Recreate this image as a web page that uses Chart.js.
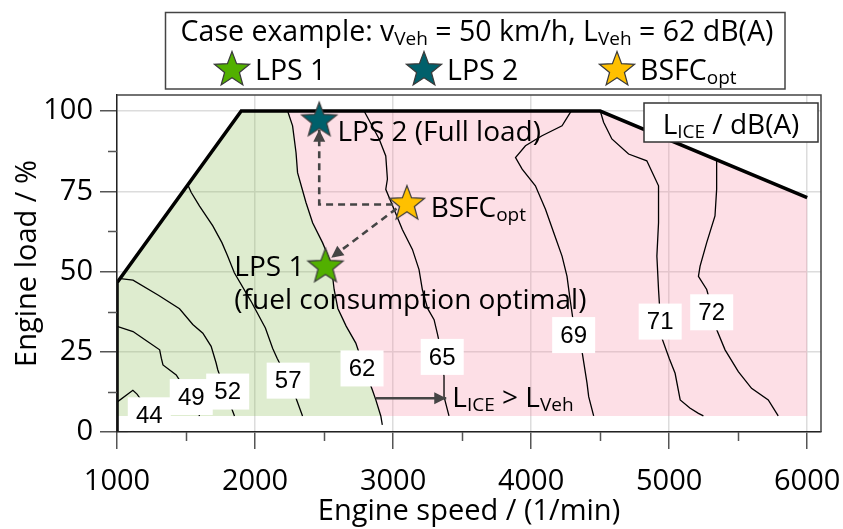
<!DOCTYPE html>
<html>
<head>
<meta charset="utf-8">
<script src="https://cdn.jsdelivr.net/npm/chart.js@4.4.1/dist/chart.umd.min.js"></script>
<style>
  html, body { margin: 0; padding: 0; background: #fff; }
  canvas { display: block; }
</style>
</head>
<body>
<canvas id="map" width="843" height="529"></canvas>
<script>
// axis ticks
const xTickValues = [1000, 1500, 2000, 2500, 3000, 3500, 4000, 4500, 5000, 5500, 6000];
const xTickLabels = ['1000', '', '2000', '', '3000', '', '4000', '', '5000', '', '6000'];
const yTickValues = [0, 12.5, 25, 37.5, 50, 62.5, 75, 87.5, 100];
const yTickLabels = ['0', '', '25', '', '50', '', '75', '', '100'];

// full load curve (rpm, %)
const fullLoadRpm = [1000, 1000, 1900, 4500, 6000];
const fullLoadPct = [0, 46.5, 100, 100, 73];
const fillFloor = 5;

// iso-noise lines L_ICE [rpm, load %]
const iso44 = [[1000, 9.3], [1115, 13], [1145, 11.8], [1200, 8.5], [1240, 5]];
const iso49 = [[1000, 32.9], [1116, 31.3], [1200, 28.8], [1309, 25.6], [1321, 23], [1333, 20.9], [1429, 17.8], [1500, 13], [1560, 9], [1598, 5]];
const iso52 = [[1025, 47.8], [1116, 47.3], [1300, 42.6], [1453, 38.4], [1549, 33.5], [1622, 30.8], [1682, 26.7], [1718, 21.5], [1730, 19.4], [1790, 12], [1851, 5]];
const iso57 = [[1513, 77], [1538, 74.6], [1598, 70.4], [1694, 64.2], [1760, 59], [1800, 55], [1850, 49.6], [1970, 40.8], [2075, 32.4], [2128, 26], [2160, 23], [2230, 17], [2297, 10.5], [2344, 5]];
const iso62 = [[2236, 100], [2272, 95.4], [2297, 87], [2308, 80.8], [2369, 71.5], [2417, 65.2], [2489, 59], [2550, 52.7], [2573, 44.4], [2600, 38.5], [2660, 33], [2730, 27.7], [2790, 20], [2850, 13.1], [2875, 10], [2911, 5], [2922, 2.2]];
const iso65 = [[2790, 100], [2899, 91.3], [2947, 86], [2959, 78.8], [2947, 75.6], [3007, 69.4], [3067, 63.1], [3140, 56.9], [3188, 50.6], [3212, 44.4], [3250, 38.5], [3297, 35], [3320, 30.8], [3350, 25], [3369, 17.3], [3369, 11], [3405, 5]];
const iso69 = [[4290, 100], [4224, 95.4], [4079, 92.3], [3959, 89.2], [3887, 85.5], [3935, 81.9], [4031, 76.7], [4104, 69.4], [4164, 62.1], [4224, 54.8], [4260, 48.5], [4280, 42], [4300, 36], [4330, 30], [4369, 25], [4405, 15.2], [4417, 11], [4453, 5]];
const iso71 = [[4501, 100], [4525, 96.5], [4585, 91.3], [4706, 86.6], [4838, 84.5], [4923, 76.7], [4923, 65.2], [4911, 54.8], [4923, 44.4], [4935, 36], [4947, 29.3], [5000, 23], [5043, 18.3], [5080, 10], [5150, 7.5], [5212, 5.8], [5248, 5]];
const iso72 = [[5344, 84.8], [5344, 75.6], [5332, 67.3], [5272, 59], [5224, 51.7], [5212, 48.5], [5272, 44.4], [5300, 40], [5330, 35], [5344, 31.9], [5405, 25.6], [5501, 18.8], [5597, 13.6], [5718, 10], [5790, 5]];

const isoLevels = [44, 49, 52, 57, 62, 65, 69, 71, 72];
const isoLabelRpm = [1234, 1538, 1802, 2240, 2775, 3356, 4308, 4935, 5308];
const isoLabelPct = [5.2, 10.9, 12.6, 16.0, 19.8, 23.4, 30.2, 34.4, 37.3];

// operating points
const lps1 = [2510, 51.5];
const lps2 = [2465, 97];
const bsfcOpt = [3100, 71];

// arrows
const arrowToLps2 = [[3000, 70.9], [2465, 70.9], [2465, 94.2]];
const arrowToLps1 = [[3025, 69.6], [2552, 54.3]];
const arrowLouder = [[2875, 10.5], [3385, 10.5]];

// annotations: text parts ([text, subscript]), rpm, load
const annoParts = [
  [['LPS 2 (Full load)']],
  [['BSFC'], ['opt', 1]],
  [['LPS 1']],
  [['(fuel consumption optimal)']],
  [['L'], ['ICE', 1], [' > L'], ['Veh', 1]]
];
const annoRpm = [2597, 3272, 1850, 1850, 3429];
const annoPct = [93.8, 70.2, 51.7, 41.3, 11];

const FONT = '"Open Sans", "Noto Sans", sans-serif';
const toXY = arr => arr.map(p => ({x: p[0], y: p[1]}));

function starImage(fill) {
  const c = document.createElement('canvas');
  c.width = 42; c.height = 42;
  const g = c.getContext('2d');
  const R = 18.5, r = 7.8;
  g.beginPath();
  for (let i = 0; i < 10; i++) {
    const a = -Math.PI / 2 + i * Math.PI / 5;
    const rad = i % 2 ? r : R;
    g.lineTo(21 + rad * Math.cos(a), 21 + rad * Math.sin(a));
  }
  g.closePath();
  g.fillStyle = fill;
  g.fill();
  g.strokeStyle = '#3a3a3a';
  g.lineWidth = 1.2;
  g.stroke();
  return c;
}
const starGreen = starImage('#52b000');
const starTeal = starImage('#00606b');
const starYellow = starImage('#ffc000');

// y = centre of capitals
function drawRich(ctx, parts, x, y, size, align) {
  const mainF = size + 'px ' + FONT;
  const subF = Math.round(size * 0.68) + 'px ' + FONT;
  let w = 0;
  parts.forEach(p => { ctx.font = p[1] ? subF : mainF; w += ctx.measureText(p[0]).width; });
  let cx = align === 'center' ? x - w / 2 : x;
  const base = y + size * 0.357;
  ctx.textAlign = 'left';
  ctx.textBaseline = 'alphabetic';
  ctx.fillStyle = '#000';
  parts.forEach(p => {
    ctx.font = p[1] ? subF : mainF;
    ctx.fillText(p[0], cx, p[1] ? base + size * 0.15 : base);
    cx += ctx.measureText(p[0]).width;
  });
}

// shaded areas below/above the L_Veh = 62 dB(A) line
const iso62Fill = iso62.filter(p => p[1] >= fillFloor);
const greenArea = [[fullLoadRpm[0], fillFloor]]
  .concat(fullLoadRpm.map((v, i) => [v, fullLoadPct[i]]).filter(p => p[0] < iso62[0][0] && p[1] > fillFloor))
  .concat(iso62Fill);
const pinkArea = iso62Fill.slice(0, 1)
  .concat(fullLoadRpm.map((v, i) => [v, fullLoadPct[i]]).filter(p => p[0] > iso62[0][0]))
  .concat([[fullLoadRpm[fullLoadRpm.length - 1], fillFloor]])
  .concat(iso62Fill.slice().reverse());

function isoSet(arr) {
  return {type: 'line', data: toXY(arr), borderColor: '#000', borderWidth: 1.3, pointRadius: 0, tension: 0, fill: false, order: 5};
}
function arrowSet(arr, dashed) {
  return {type: 'line', data: toXY(arr), borderColor: '#454545', borderWidth: 2.6, borderDash: dashed ? [7, 5] : [],
    pointRadius: 0, tension: 0, fill: false, order: 2, arrowHead: true};
}
function starSet(p, img) {
  return {type: 'scatter', data: toXY([p]), pointStyle: img, pointRadius: 18, order: 1};
}

const minorTicks = {
  id: 'minorTicks',
  afterDraw(chart) {
    const {ctx, chartArea: a, scales: {x, y}} = chart;
    ctx.save();
    ctx.strokeStyle = '#555';
    ctx.lineWidth = 1.5;
    ctx.beginPath();
    xTickValues.forEach((v, i) => {
      if (xTickLabels[i]) return;
      const px = Math.round(x.getPixelForValue(v)) + 0.5;
      ctx.moveTo(px, a.bottom); ctx.lineTo(px, a.bottom + 9);
    });
    yTickValues.forEach((v, i) => {
      if (yTickLabels[i]) return;
      const py = Math.round(y.getPixelForValue(v)) + 0.5;
      ctx.moveTo(a.left, py); ctx.lineTo(a.left - 9, py);
    });
    ctx.stroke();
    // frame top/right
    ctx.strokeStyle = '#444';
    ctx.beginPath();
    ctx.moveTo(a.left, a.top); ctx.lineTo(a.right, a.top); ctx.lineTo(a.right, a.bottom);
    ctx.stroke();
    ctx.restore();
  }
};

const mapLabels = {
  id: 'mapLabels',
  afterDatasetsDraw(chart) {
    const {ctx, scales: {x, y}} = chart;
    ctx.save();
    // arrow heads
    chart.data.datasets.forEach((ds, i) => {
      if (!ds.arrowHead) return;
      const pts = chart.getDatasetMeta(i).data;
      const p1 = pts[pts.length - 2], p2 = pts[pts.length - 1];
      const ang = Math.atan2(p2.y - p1.y, p2.x - p1.x);
      const L = 12, W = 6;
      ctx.fillStyle = '#454545';
      ctx.beginPath();
      ctx.moveTo(p2.x, p2.y);
      ctx.lineTo(p2.x - L * Math.cos(ang) - W * Math.sin(ang), p2.y - L * Math.sin(ang) + W * Math.cos(ang));
      ctx.lineTo(p2.x - L * Math.cos(ang) + W * Math.sin(ang), p2.y - L * Math.sin(ang) - W * Math.cos(ang));
      ctx.closePath();
      ctx.fill();
    });
    // iso line values
    ctx.font = '24px "Liberation Sans", Arial, sans-serif';
    isoLevels.forEach((v, i) => {
      const px = x.getPixelForValue(isoLabelRpm[i]);
      const py = y.getPixelForValue(isoLabelPct[i]);
      ctx.fillStyle = '#fff';
      ctx.fillRect(px - 21.5, py - 18, 43, 36);
      ctx.fillStyle = '#000';
      ctx.textAlign = 'center';
      ctx.textBaseline = 'middle';
      ctx.fillText(String(v), px, py + 1);
    });
    // annotations
    annoParts.forEach((parts, i) => {
      drawRich(ctx, parts, x.getPixelForValue(annoRpm[i]), y.getPixelForValue(annoPct[i]), 28, 'left');
    });
    ctx.restore();
  },
  afterDraw(chart) {
    const {ctx, chartArea: a} = chart;
    ctx.save();
    ctx.lineWidth = 1.5;
    ctx.strokeStyle = '#333';
    // colour-bar style title box
    ctx.fillStyle = '#fff';
    ctx.fillRect(a.right - 177, a.top + 8, 174, 39);
    ctx.strokeRect(a.right - 177, a.top + 8, 174, 39);
    drawRich(ctx, [['L'], ['ICE', 1], [' / dB(A)']], a.right - 90, a.top + 29, 28, 'center');
    // legend
    ctx.strokeStyle = '#444';
    ctx.fillStyle = '#fff';
    ctx.fillRect(165.5, 12.5, 619.5, 76.5);
    ctx.strokeRect(165.5, 12.5, 619.5, 76.5);
    drawRich(ctx, [['Case example: v'], ['Veh', 1], [' = 50 km/h, L'], ['Veh', 1], [' = 62 dB(A)']], 477, 31, 28.5, 'center');
    const items = [[starGreen, 232, [['LPS 1']]], [starTeal, 424, [['LPS 2']]], [starYellow, 617, [['BSFC'], ['opt', 1]]]];
    items.forEach(it => {
      ctx.drawImage(it[0], it[1] - 21, 70 - 21);
      drawRich(ctx, it[2], it[1] + 23, 70, 28.5, 'left');
    });
    ctx.restore();
  }
};

const axisFont = {family: FONT, size: 29};
const titleFont = {family: FONT, size: 29, lineHeight: 1.2};

new Chart(document.getElementById('map'), {
  type: 'scatter',
  data: {
    datasets: [
      starSet(lps1, starGreen),
      starSet(lps2, starTeal),
      starSet(bsfcOpt, starYellow),
      arrowSet(arrowToLps2, true),
      arrowSet(arrowToLps1, true),
      arrowSet(arrowLouder, false),
      {type: 'line', data: toXY(fullLoadRpm.map((v, i) => [v, fullLoadPct[i]])), borderColor: '#000', borderWidth: 3.5,
        pointRadius: 0, tension: 0, fill: false, order: 4, borderJoinStyle: 'miter'},
      isoSet(iso44), isoSet(iso49), isoSet(iso52), isoSet(iso57), isoSet(iso62),
      isoSet(iso65), isoSet(iso69), isoSet(iso71), isoSet(iso72),
      {type: 'line', data: toXY(greenArea), borderWidth: 0, pointRadius: 0, tension: 0,
        backgroundColor: 'rgba(146,192,96,0.3)', fill: 'shape', order: 10},
      {type: 'line', data: toXY(pinkArea), borderWidth: 0, pointRadius: 0, tension: 0,
        backgroundColor: 'rgba(248,150,172,0.3)', fill: 'shape', order: 10}
    ]
  },
  options: {
    responsive: false,
    animation: false,
    devicePixelRatio: 1,
    events: [],
    layout: {padding: {top: 95, right: 22, bottom: 0, left: 0}},
    plugins: {legend: {display: false}, tooltip: {enabled: false}},
    scales: {
      x: {
        type: 'linear', position: 'bottom', min: 1000, max: 6100,
        afterBuildTicks: s => { s.ticks = xTickValues.map(v => ({value: v})); },
        afterFit: s => { s.height = 97; s.paddingLeft = 0; s.paddingRight = 0; },
        ticks: {callback: (v, i) => xTickLabels[i], autoSkip: false, maxRotation: 0, minRotation: 0,
          font: axisFont, color: '#000', padding: 15},
        grid: {
          color: c => (c.tick && xTickLabels[c.index] ? '#dcdcdc' : 'rgba(0,0,0,0)'),
          tickColor: c => (c.tick && xTickLabels[c.index] ? '#555' : 'rgba(0,0,0,0)'),
          lineWidth: 1.5, tickWidth: 1.5, tickLength: 17
        },
        border: {color: '#222', width: 1.5, z: 1},
        title: {display: true, text: 'Engine speed / (1/min)', font: titleFont, color: '#000', padding: {top: 0, bottom: 0}}
      },
      y: {
        type: 'linear', min: 0, max: 105,
        afterBuildTicks: s => { s.ticks = yTickValues.map(v => ({value: v})); },
        afterFit: s => { s.width = 117; s.paddingTop = 0; s.paddingBottom = 0; },
        ticks: {callback: (v, i) => yTickLabels[i], autoSkip: false, font: axisFont, color: '#000', padding: 7},
        grid: {
          color: c => (c.tick && yTickLabels[c.index] ? '#dcdcdc' : 'rgba(0,0,0,0)'),
          tickColor: c => (c.tick && yTickLabels[c.index] ? '#555' : 'rgba(0,0,0,0)'),
          lineWidth: 1.5, tickWidth: 1.5, tickLength: 17
        },
        border: {color: '#222', width: 1.5, z: 1},
        title: {display: true, text: 'Engine load / %', font: titleFont, color: '#000', padding: {top: 10, bottom: 0}}
      }
    }
  },
  plugins: [minorTicks, mapLabels]
});
</script>
</body>
</html>
